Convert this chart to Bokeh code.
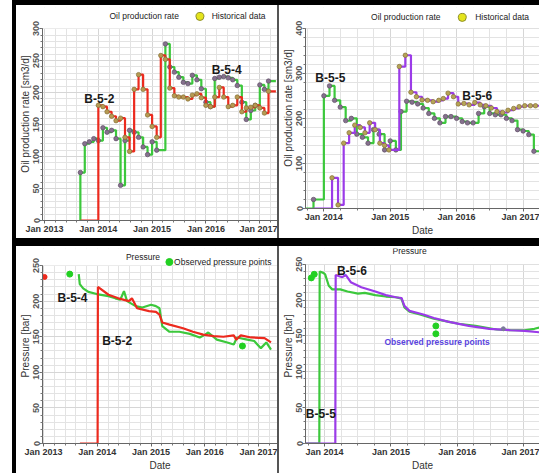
import pandas as pd
from bokeh.plotting import figure
from bokeh.models import (Range1d, FixedTicker, SingleIntervalTicker, DatetimeTickFormatter,
                          Label, Div, BoxAnnotation)
from bokeh.layouts import row, column
from bokeh.embed import file_html
from bokeh.resources import INLINE

# ---------------- data ----------------
# Panel 1: oil production rate [sm3/d]
B54_RATE_DATES = ["2013-08-28", "2013-09-01", "2013-10-01", "2013-11-01", "2013-12-01", "2014-01-01",
                  "2014-02-01", "2014-03-01", "2014-04-01", "2014-05-01", "2014-06-01", "2014-07-01",
                  "2014-08-01", "2014-09-01", "2014-10-01", "2014-11-01", "2014-12-01", "2015-01-01",
                  "2015-02-01", "2015-04-01", "2015-05-01", "2015-06-01", "2015-07-01", "2015-08-01",
                  "2015-09-01", "2015-10-01", "2015-11-01", "2015-12-01", "2016-01-01", "2016-02-01",
                  "2016-03-01", "2016-04-01", "2016-05-01", "2016-06-01", "2016-07-01", "2016-08-01",
                  "2016-09-01", "2016-10-01", "2016-11-01", "2016-12-01", "2017-01-01", "2017-02-01",
                  "2017-03-01", "2017-04-20"]
B54_RATE = [0, 75, 120, 123, 128, 125, 145, 138, 141, 128, 55, 125, 141, 138, 130, 115, 103, 123,
            110, 276, 240, 232, 224, 216, 214, 227, 220, 206, 185, 178, 222, 224, 225, 223, 220, 211,
            185, 158, 172, 180, 212, 205, 218, 218]
B52_RATE_DATES = ["2013-09-03", "2014-01-01", "2014-02-01", "2014-03-01", "2014-04-01", "2014-05-01",
                  "2014-06-01", "2014-07-01", "2014-08-01", "2014-09-01", "2014-10-01", "2014-11-01",
                  "2014-12-01", "2015-01-01", "2015-02-01", "2015-03-01", "2015-04-01", "2015-05-01",
                  "2015-06-01", "2015-07-01", "2015-08-01", "2015-09-01", "2015-10-01", "2015-11-01",
                  "2015-12-01", "2016-01-01", "2016-02-01", "2016-03-01", "2016-04-01", "2016-05-01",
                  "2016-06-01", "2016-07-01", "2016-08-01", "2016-09-01", "2016-10-01", "2016-11-01",
                  "2016-12-01", "2017-01-01", "2017-02-01", "2017-03-01", "2017-04-20"]
B52_RATE = [0, 180, 178, 170, 163, 156, 160, 130, 108, 205, 228, 205, 165, 147, 130, 258, 252, 207,
            195, 193, 193, 190, 196, 198, 192, 180, 178, 193, 208, 193, 178, 180, 193, 170, 176, 177,
            180, 176, 168, 202, 202]

# Panel 2: oil production rate [sm3/d]
B55_RATE_DATES = ["2013-09-15", "2013-11-05", "2014-01-01", "2014-02-01", "2014-03-01", "2014-04-01",
                  "2014-05-01", "2014-06-01", "2014-07-01", "2014-08-01", "2014-09-01", "2014-10-01",
                  "2014-11-01", "2014-12-01", "2015-01-01", "2015-02-01", "2015-03-01", "2015-04-01",
                  "2015-05-01", "2015-06-01", "2015-07-01", "2015-08-01", "2015-09-01", "2015-10-01",
                  "2015-11-01", "2015-12-01", "2016-01-01", "2016-02-01", "2016-03-01", "2016-04-01",
                  "2016-05-01", "2016-06-01", "2016-07-01", "2016-08-01", "2016-09-01", "2016-10-01",
                  "2016-11-01", "2016-12-01", "2017-01-01", "2017-02-01", "2017-03-01", "2017-04-05"]
B55_RATE = [0, 20, 250, 272, 240, 225, 195, 200, 165, 158, 145, 175, 165, 130, 150, 130, 215, 238,
            236, 232, 223, 211, 200, 190, 204, 204, 200, 193, 190, 190, 211, 226, 211, 208, 208, 200,
            195, 175, 172, 164, 127, 127]
B56_RATE_DATES = ["2013-11-05", "2014-02-15", "2014-03-20", "2014-04-20", "2014-05-20", "2014-06-20",
                  "2014-07-20", "2014-08-15", "2014-09-10", "2014-10-10", "2014-11-05", "2014-12-01",
                  "2014-12-25", "2015-02-20", "2015-03-25", "2015-04-25", "2015-05-25", "2015-06-25",
                  "2015-07-25", "2015-08-25", "2015-09-25", "2015-10-20", "2015-11-15", "2015-12-15",
                  "2016-01-10", "2016-02-10", "2016-03-10", "2016-04-10", "2016-05-10", "2016-06-10",
                  "2016-07-10", "2016-08-10", "2016-09-10", "2016-10-10", "2016-11-10", "2016-12-10",
                  "2017-01-10", "2017-02-10", "2017-03-10", "2017-04-05"]
B56_RATE = [0, 68, 8, 145, 168, 185, 180, 168, 190, 175, 145, 140, 130, 315, 340, 258, 248, 241,
            240, 237, 240, 244, 256, 248, 232, 233, 230, 235, 230, 228, 223, 215, 213, 218, 222, 226,
            228, 228, 228, 228]

# Panel 3: pressure [bar]
B52_P_DATES = ["2013-09-05", "2014-01-03", "2014-01-05", "2014-03-18", "2014-05-24", "2014-08-03",
               "2014-08-24", "2014-09-28", "2014-12-18", "2015-02-03", "2015-02-27", "2015-03-18",
               "2015-05-06", "2015-08-06", "2015-10-12", "2015-12-21", "2016-03-01", "2016-05-06",
               "2016-07-15", "2016-08-01", "2016-09-01", "2016-11-09", "2017-02-09", "2017-03-25"]
B52_P = [0, 0, 220, 209, 204, 200, 204, 190, 186, 185, 181, 170, 167, 162, 157, 153, 151, 150, 152,
         146, 152, 149, 148, 142]
B54_P_DATES = ["2013-08-28", "2013-09-04", "2013-09-27", "2013-11-01", "2013-12-28", "2014-03-18",
               "2014-05-03", "2014-06-06", "2014-07-01", "2014-07-22", "2014-09-18", "2014-11-03",
               "2015-01-01", "2015-02-03", "2015-02-27", "2015-03-18", "2015-05-06", "2015-07-12",
               "2015-09-21", "2015-11-27", "2016-01-03", "2016-01-24", "2016-03-22", "2016-06-01",
               "2016-07-15", "2016-08-06", "2016-10-15", "2016-12-01", "2017-01-15", "2017-02-21",
               "2017-03-25"]
B54_P = [238, 224, 218, 213, 210, 207, 204, 202, 214, 200, 193, 191, 195, 193, 190, 165, 157, 157,
         154, 149, 153, 156, 146, 142, 139, 149, 146, 144, 134, 142, 132]
OBS3_RED_DATES = ["2013-01-08"]
OBS3_RED = [234]
OBS3_GREEN_DATES = ["2013-06-28", "2016-09-12"]
OBS3_GREEN = [238, 137]

# Panel 4: pressure [bar]
B55_P_DATES = ["2013-09-18", "2013-12-03", "2013-12-05", "2013-12-25", "2014-01-04", "2014-01-24",
               "2014-02-12", "2014-03-28", "2014-05-07", "2014-07-04", "2014-08-10", "2014-10-07",
               "2014-12-04", "2015-01-28", "2015-02-28", "2015-03-16", "2015-04-13", "2015-06-10",
               "2015-08-25", "2015-11-10", "2016-01-07", "2016-04-10", "2016-08-04", "2016-10-19",
               "2017-01-04", "2017-02-28", "2017-04-01"]
B55_P = [0, 0, 240, 238, 236, 220, 215, 215, 212, 209, 210, 207, 205, 204, 202, 190, 184, 180, 174,
         170, 167, 164, 159, 158, 158, 160, 162]
B56_P_DATES = ["2013-09-18", "2014-03-01", "2014-03-03", "2014-04-08", "2014-04-28", "2014-05-25",
               "2014-07-22", "2014-10-07", "2014-12-04", "2015-01-28", "2015-02-28", "2015-03-16",
               "2015-04-13", "2015-06-28", "2015-08-25", "2015-11-10", "2016-03-04", "2016-06-25",
               "2016-10-19", "2017-01-04", "2017-04-01"]
B56_P = [0, 0, 235, 232, 235, 225, 218, 212, 207, 204, 203, 192, 185, 180, 175, 170, 164, 160, 158,
         157, 155]
OBS4_GREEN_DATES = ["2013-10-20", "2013-11-05", "2015-09-05", "2015-09-05"]
OBS4_GREEN = [231, 236, 164, 153]
OBS4_GRAY_DATES = ["2016-09-10"]
OBS4_GRAY = [160]

YEARS = [2012, 2013, 2014, 2015, 2016, 2017, 2018]

# ---------------- style ----------------
FONT = "Liberation Sans"
GREEN = "#3cc83c"
RED = "#ec2a1e"
PURPLE = "#9b3be8"
OBS_GREEN = "#22d022"
HDR = "8.5px"


def ts(s):
    return pd.Timestamp(s).value / 1e6


def dt(lst):
    return pd.to_datetime(lst)


def minor_list(n):
    out = []
    for y in YEARS:
        a, b = ts(f"{y}-01-01"), ts(f"{y + 1}-01-01")
        out += [a + (b - a) * k / n for k in range(1, n)]
    return out


def make_fig(w, h, x0, x1, ytop, yview, yint, nminor, ylabel, xlabel, top, bottom):
    p = figure(width=w, height=h, x_axis_type="datetime",
               x_range=Range1d(ts(x0), ts(x1)), y_range=Range1d(0, yview),
               output_backend="svg", toolbar_location=None, frame_align=False,
               min_border_left=0, min_border_right=0, min_border_top=top, min_border_bottom=bottom)
    p.outline_line_color = None
    p.border_fill_color = "white"
    xt = FixedTicker(ticks=[ts(f"{y}-01-01") for y in YEARS], minor_ticks=minor_list(nminor))
    yt = SingleIntervalTicker(interval=yint, num_minor_ticks=5)
    p.xaxis.ticker = xt
    p.xgrid.ticker = xt
    p.yaxis.ticker = yt
    p.ygrid.ticker = yt
    p.yaxis.bounds = (0, ytop)
    p.xaxis.formatter = DatetimeTickFormatter(years="%b %Y", months="%b %Y", days="%b %Y")
    for g in (p.xgrid, p.ygrid):
        g.grid_line_color = "#d6d6d6"
        g.minor_grid_line_color = "#e3e3e3"
    for ax in (p.xaxis, p.yaxis):
        ax.axis_line_color = "#666666"
        ax.major_tick_line_color = "#666666"
        ax.minor_tick_line_color = "#777777"
        ax.major_tick_out = 3
        ax.major_tick_in = 0
        ax.minor_tick_out = 2
        ax.minor_tick_in = 0
        ax.major_label_text_font = FONT
        ax.major_label_text_font_size = "9px"
        ax.major_label_text_font_style = "bold"
        ax.major_label_standoff = 0
        ax.axis_label_text_font = FONT
        ax.axis_label_text_font_size = "10px"
        ax.axis_label_text_font_style = "normal"
        ax.axis_label_text_color = "#333333"
        ax.axis_label_standoff = 0
    p.xaxis.major_label_text_color = "#333333"
    p.yaxis.major_label_text_color = "#555555"
    p.yaxis.major_label_orientation = "parallel"
    p.yaxis.axis_label = ylabel
    if xlabel:
        p.xaxis.axis_label = xlabel
    # white header strip above the plotted range
    p.add_layout(BoxAnnotation(bottom=ytop, fill_color="white", fill_alpha=1.0,
                               line_alpha=0, level="underlay"))
    return p


def frac_x(x0, x1, f):
    a, b = ts(x0), ts(x1)
    return a + (b - a) * f


def hdr_text(p, x, y, text, align="left"):
    p.add_layout(Label(x=x, y=y, text=text, text_font=FONT, text_font_size=HDR,
                       text_color="#222222", text_baseline="middle", text_align=align))


def header(p, x0, x1, title, title_f, title_y, mark_f, text, text_f, text_y, fill, line, msize):
    hdr_text(p, frac_x(x0, x1, title_f), title_y, title)
    p.scatter([frac_x(x0, x1, mark_f)], [text_y], marker="circle", size=msize,
              fill_color=fill, line_color=line, line_width=1)
    hdr_text(p, frac_x(x0, x1, text_f), text_y, text)


def tag(p, x, y, text, size="12px", color="#1a1a1a", align="left"):
    p.add_layout(Label(x=ts(x), y=y, text=text, text_font=FONT, text_font_size=size,
                       text_font_style="bold", text_color=color, text_baseline="middle",
                       text_align=align))


def steps_with_points(p, dates, vals, color, pt_fill, pt_line):
    x = dt(dates)
    p.step(x=x, y=vals, mode="after", line_color=color, line_width=2.2)
    px = [d for d, v in zip(x[:-1], vals[:-1]) if v > 0]
    py = [v for v in vals[:-1] if v > 0]
    p.scatter(px, py, marker="circle", size=4.5, fill_color=pt_fill, line_color=pt_line,
              line_width=0.7)


# ---------------- panel 1 ----------------
X1 = ("2012-12-18", "2017-05-01")
p1 = make_fig(261, 233, X1[0], X1[1], 300, 333, 50, 5,
              "Oil production rate [sm3/d]", None, 2, 18)
header(p1, X1[0], X1[1], "Oil production rate", 0.285, 319, 0.67, "Historical data", 0.72, 319,
       "#e4e41c", "#8e8e2a", 8)
steps_with_points(p1, B54_RATE_DATES, B54_RATE, GREEN, "#86718e", "#5e4e66")
steps_with_points(p1, B52_RATE_DATES, B52_RATE, RED, "#b69a52", "#857036")
tag(p1, "2013-09-28", 190, "B-5-2")
tag(p1, "2016-02-09", 235, "B-5-4")

# ---------------- panel 2 ----------------
X2 = ("2013-09-22", "2017-04-01")
p2 = make_fig(260, 233, X2[0], X2[1], 400, 446, 100, 4,
              "Oil production rate [sm3/d]", "Date", 2, 29)
header(p2, X2[0], X2[1], "Oil production rate", 0.28, 424, 0.67, "Historical data", 0.725, 424,
       "#e4e41c", "#8e8e2a", 8)
steps_with_points(p2, B55_RATE_DATES, B55_RATE, GREEN, "#86718e", "#5e4e66")
steps_with_points(p2, B56_RATE_DATES, B56_RATE, PURPLE, "#b6a456", "#857036")
tag(p2, "2013-11-15", 290, "B-5-5")
tag(p2, "2016-02-01", 249, "B-5-6")

# ---------------- panel 3 ----------------
X3 = ("2012-12-25", "2017-05-08")
p3 = make_fig(261, 227, X3[0], X3[1], 250, 274, 50, 5,
              "Pressure [bar]", "Date", 2, 28)
header(p3, X3[0], X3[1], "Pressure", 0.355, 262, 0.54, "Observed pressure points", 0.56, 255,
       OBS_GREEN, OBS_GREEN, 7)
p3.line(dt(B54_P_DATES), B54_P, line_color=GREEN, line_width=2.2)
p3.line(dt(B52_P_DATES), B52_P, line_color=RED, line_width=2.2)
p3.scatter(dt(OBS3_RED_DATES), OBS3_RED, marker="circle", size=5, fill_color=RED, line_color=RED)
p3.scatter(dt(OBS3_GREEN_DATES), OBS3_GREEN, marker="circle", size=6, fill_color=OBS_GREEN,
           line_color=OBS_GREEN)
tag(p3, "2013-04-06", 204, "B-5-4")
tag(p3, "2014-02-03", 144, "B-5-2")

# ---------------- panel 4 ----------------
X4 = ("2013-09-18", "2017-03-28")
p4 = make_fig(260, 227, X4[0], X4[1], 250, 272, 50, 4,
              "Pressure [bar]", "Date", 2, 29)
hdr_text(p4, frac_x(X4[0], X4[1], 0.445), 268, "Pressure", align="center")
p4.line(dt(B55_P_DATES), B55_P, line_color=GREEN, line_width=2.2)
p4.line(dt(B56_P_DATES), B56_P, line_color=PURPLE, line_width=2.2)
p4.scatter(dt(OBS4_GREEN_DATES), OBS4_GREEN, marker="circle", size=6, fill_color=OBS_GREEN,
           line_color=OBS_GREEN)
p4.scatter(dt(OBS4_GRAY_DATES), OBS4_GRAY, marker="circle", size=4, fill_color="#7a7a9a",
           line_color="#7a7a9a")
tag(p4, "2014-03-10", 240, "B-5-6")
tag(p4, "2013-09-20", 41, "B-5-5")
tag(p4, "2015-09-12", 142, "Observed pressure points", size="8.5px", color="#5a44e0", align="center")


# ---------------- layout ----------------
def blk(w, h, color):
    return Div(text="", width=w, height=h, margin=0, styles={"background-color": color})


layout = column(
    row(blk(12, 5, "white"), blk(527, 5, "black")),
    row(blk(12, 233, "white"), blk(4, 233, "black"), p1, blk(2, 233, "#555555"), p2),
    row(blk(12, 8, "white"), blk(527, 8, "black")),
    row(blk(12, 227, "white"), blk(4, 227, "black"), p3, blk(2, 227, "#555555"), p4),
)

open("out.html", "w").write(file_html(layout, INLINE))
